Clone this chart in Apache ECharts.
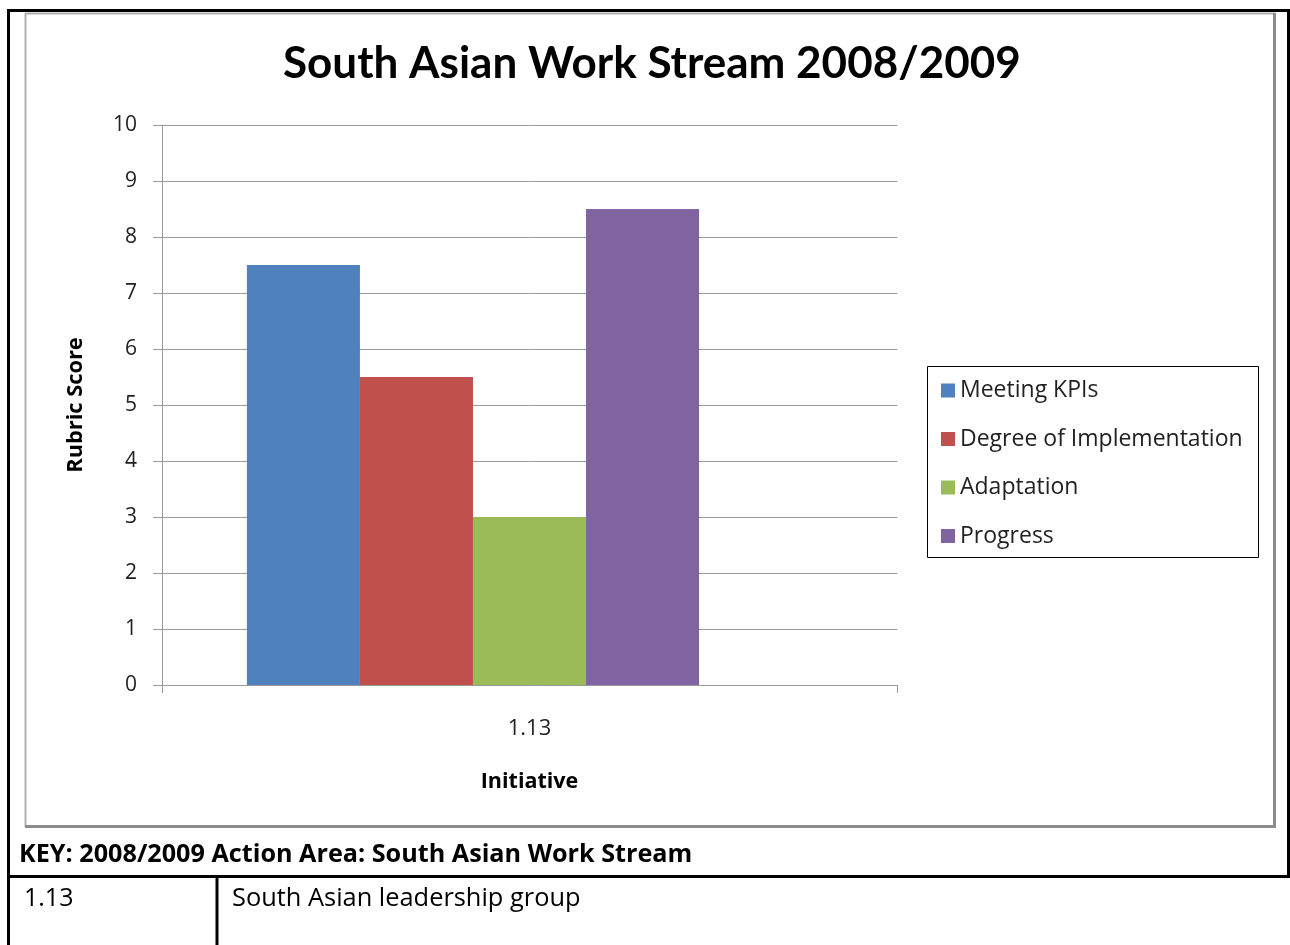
<!DOCTYPE html>
<html>
<head>
<meta charset="utf-8">
<script src="https://cdn.jsdelivr.net/npm/echarts@6/dist/echarts.min.js"></script>
<style>
  html, body { margin: 0; padding: 0; background: #fff; }
  #chart { width: 1290px; height: 945px; }
</style>
</head>
<body>
<div id="chart"></div>
<script>
// Rubric scores for initiative 1.13
const categories = ['1.13'];
const seriesNames = ['Meeting KPIs', 'Degree of Implementation', 'Adaptation', 'Progress'];
const meetingKpis = [7.5];
const degreeOfImplementation = [5.5];
const adaptation = [3];
const progress = [8.5];
const yTicks = [0, 1, 2, 3, 4, 5, 6, 7, 8, 9, 10];

const seriesValues = [meetingKpis, degreeOfImplementation, adaptation, progress];
const colors = ['#4F81BD', '#C0504D', '#9BBB59', '#8064A2'];
const TITLE_FONT = 'Lato, "Open Sans", sans-serif';
const FONT = '"Open Sans", Lato, sans-serif';

const series = seriesNames.map((name, i) => ({
  name,
  type: 'bar',
  data: seriesValues[i],
  itemStyle: { color: colors[i] },
  barGap: '0%',
  barCategoryGap: '23.1%',
  animation: false
}));
// empty fifth slot keeps the group offset inside the category
series.push({
  name: '_spacer',
  type: 'bar',
  data: categories.map(() => null),
  barGap: '0%',
  barCategoryGap: '23.1%',
  animation: false
});

const chart = echarts.init(document.getElementById('chart'), null, { renderer: 'canvas' });

chart.setOption({
  backgroundColor: '#ffffff',
  animation: false,
  title: {
    text: 'South Asian Work Stream 2008/2009',
    left: 283,
    top: 42,
    padding: 0,
    textStyle: { fontFamily: TITLE_FONT, fontWeight: 'bold', fontSize: 44, color: '#000' }
  },
  legend: {
    data: seriesNames,
    orient: 'vertical',
    left: 927,
    top: 367,
    padding: [12, 10, 12, 14],
    itemGap: 25.5,
    itemWidth: 14,
    itemHeight: 14,
    icon: 'rect',
    textStyle: { fontFamily: FONT, fontSize: 23, color: '#222' }
  },
  grid: { left: 162, top: 125, right: 393, bottom: 260, containLabel: false },
  xAxis: {
    type: 'category',
    data: categories,
    name: 'Initiative',
    nameLocation: 'middle',
    nameGap: 86,
    nameTextStyle: { fontFamily: FONT, fontWeight: 'bold', fontSize: 21.5, color: '#000', verticalAlign: 'top' },
    axisLine: { lineStyle: { color: '#999', width: 1 } },
    axisTick: { show: true, length: 8, alignWithLabel: false, lineStyle: { color: '#999' } },
    axisLabel: { fontFamily: FONT, fontSize: 22, color: '#222', margin: 33 }
  },
  yAxis: {
    type: 'value',
    min: yTicks[0],
    max: yTicks[yTicks.length - 1],
    interval: 1,
    name: 'Rubric Score',
    nameLocation: 'middle',
    nameGap: 75,
    nameTextStyle: { fontFamily: FONT, fontWeight: 'bold', fontSize: 21.8, color: '#000' },
    axisLine: { show: true, lineStyle: { color: '#999', width: 1 } },
    axisTick: { show: true, length: 9, lineStyle: { color: '#999' } },
    axisLabel: { fontFamily: FONT, fontSize: 21, color: '#222', margin: 25 },
    splitLine: { lineStyle: { color: '#999', width: 1 } }
  },
  series,
  graphic: [
    // chart frame: light left/top edges, heavier right/bottom edges
    { type: 'line', shape: { x1: 25, y1: 13.5, x2: 1275, y2: 13.5 }, style: { stroke: '#b0b0b0', lineWidth: 2 }, silent: true },
    { type: 'line', shape: { x1: 25.5, y1: 13, x2: 25.5, y2: 827 }, style: { stroke: '#b0b0b0', lineWidth: 2 }, silent: true },
    { type: 'line', shape: { x1: 1274.5, y1: 13, x2: 1274.5, y2: 828 }, style: { stroke: '#8c8c8c', lineWidth: 3 }, silent: true },
    { type: 'line', shape: { x1: 25, y1: 826.5, x2: 1276, y2: 826.5 }, style: { stroke: '#8c8c8c', lineWidth: 3 }, silent: true },
    // legend frame
    { type: 'rect', shape: { x: 927.5, y: 366.5, width: 331, height: 191 }, style: { fill: 'none', stroke: '#000', lineWidth: 1 }, silent: true },
    // page table borders
    { type: 'line', shape: { x1: 7, y1: 10.5, x2: 1290, y2: 10.5 }, style: { stroke: '#000', lineWidth: 3 }, silent: true },
    { type: 'line', shape: { x1: 8.5, y1: 9, x2: 8.5, y2: 945 }, style: { stroke: '#000', lineWidth: 3 }, silent: true },
    { type: 'line', shape: { x1: 1288.5, y1: 9, x2: 1288.5, y2: 878 }, style: { stroke: '#000', lineWidth: 3 }, silent: true },
    { type: 'line', shape: { x1: 7, y1: 876.5, x2: 1290, y2: 876.5 }, style: { stroke: '#000', lineWidth: 3 }, silent: true },
    { type: 'line', shape: { x1: 217, y1: 876, x2: 217, y2: 945 }, style: { stroke: '#000', lineWidth: 3 }, silent: true },
    // key text
    { type: 'text', left: 19, top: 842, style: { text: 'KEY: 2008/2009 Action Area: South Asian Work Stream', fontFamily: FONT, fontWeight: 'bold', fontSize: 25.2, fill: '#000' }, silent: true },
    { type: 'text', left: 24, top: 886, style: { text: '1.13', fontFamily: FONT, fontSize: 25, fill: '#000' }, silent: true },
    { type: 'text', left: 232, top: 886, style: { text: 'South Asian leadership group', fontFamily: FONT, fontSize: 25.4, fill: '#000' }, silent: true }
  ]
});
</script>
</body>
</html>
